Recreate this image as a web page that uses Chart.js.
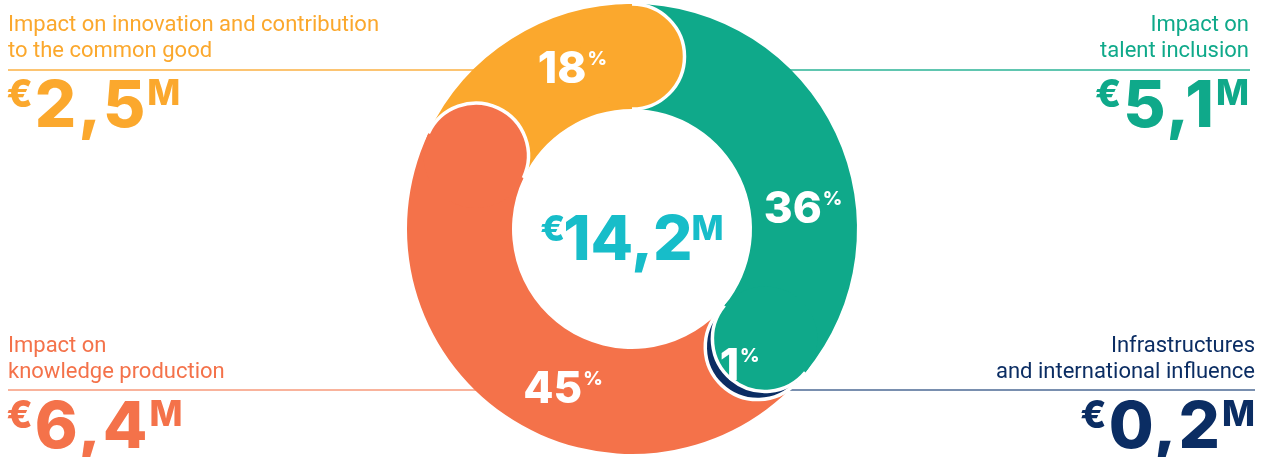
<!DOCTYPE html>
<html>
<head>
<meta charset="utf-8">
<script src="https://cdn.jsdelivr.net/npm/chart.js@4.4.1/dist/chart.umd.min.js"></script>
<style>
  html, body { margin: 0; padding: 0; background: #fff; }
  #wrap { width: 1273px; height: 457px; }
</style>
</head>
<body>
<div id="wrap"><canvas id="donut" width="1273" height="457"></canvas></div>
<script>
// clockwise from 12 o'clock
const categories = [
  "Impact on talent inclusion",
  "Infrastructures and international influence",
  "Impact on knowledge production",
  "Impact on innovation and contribution to the common good"
];
const labelLines = [
  ["Impact on", "talent inclusion"],
  ["Infrastructures", "and international influence"],
  ["Impact on", "knowledge production"],
  ["Impact on innovation and contribution", "to the common good"]
];
const amounts = ["5,1", "0,2", "6,4", "2,5"];   // € millions
const shares = [36, 1, 45, 18];                 // %
const total = "14,2";

const colors = ["#0fa98a", "#0b2d63", "#f4724a", "#fba82d"];
const ruleColors = ["#2bb396", "#4d6a94", "#f79a7b", "#fbb043"];
const totalColor = "#17bdc9";

// corner for each category's text block
const corners = [
  { right: true, bottom: false },
  { right: true, bottom: true },
  { right: false, bottom: true },
  { right: false, bottom: false }
];
// nudge of the % labels along the ring, degrees
const labelShift = [18, 10, -10.6, 12.2];

const FONT = "Inter, 'DejaVu Sans', sans-serif";
const TEXT_FONT = "Roboto, 'DejaVu Sans', sans-serif";

function drawAmount(ctx, value, x, baseline, right, color, big, small, euroSize, g1, g2, spacing) {
  const cap = 0.727;
  ctx.fillStyle = color;
  ctx.textBaseline = "alphabetic";
  ctx.textAlign = "left";
  ctx.font = `800 ${euroSize}px ${FONT}`;
  const wE = ctx.measureText("€").width;
  ctx.font = `800 ${big}px ${FONT}`;
  ctx.letterSpacing = spacing + "px";
  const wD = ctx.measureText(value).width;
  ctx.letterSpacing = "0px";
  ctx.font = `800 ${small}px ${FONT}`;
  const wM = ctx.measureText("M").width;
  const w = wE + g1 + wD + g2 + wM;
  let x0 = right === "center" ? x - w / 2 : right ? x - w : x - euroSize * 0.04;
  const top = baseline - big * cap;
  ctx.font = `800 ${euroSize}px ${FONT}`;
  ctx.fillText("€", x0, top + euroSize * cap);
  ctx.font = `800 ${big}px ${FONT}`;
  ctx.letterSpacing = spacing + "px";
  ctx.fillText(value, x0 + wE + g1, baseline);
  ctx.letterSpacing = "0px";
  ctx.font = `800 ${small}px ${FONT}`;
  ctx.fillText("M", x0 + wE + g1 + wD + g2, top + small * cap);
}

const ringPlugin = {
  id: "ring",
  beforeDatasetsDraw(chart) {
    const ctx = chart.ctx;
    const arc = chart.getDatasetMeta(0).data[0];
    const cx = arc.x;
    ctx.save();
    ctx.lineWidth = 1.5;
    corners.forEach((c, i) => {
      const y = c.bottom ? 390 : 70;
      ctx.strokeStyle = ruleColors[i];
      ctx.beginPath();
      if (c.right) { ctx.moveTo(cx, y); ctx.lineTo(c.bottom ? 1255 : 1250, y); }
      else { ctx.moveTo(8, y); ctx.lineTo(cx, y); }
      ctx.stroke();
    });
    ctx.restore();
  },
  afterDatasetsDraw(chart) {
    const ctx = chart.ctx;
    const arcs = chart.getDatasetMeta(0).data;
    ctx.save();
    // rounded ends, each one lying over the start of the next segment
    for (let i = arcs.length - 1; i >= 0; i--) {
      const { x, y, endAngle, innerRadius, outerRadius } =
        arcs[i].getProps(["x", "y", "endAngle", "innerRadius", "outerRadius"], true);
      const rm = (innerRadius + outerRadius) / 2;
      const rc = (outerRadius - innerRadius) / 2;
      const px = x + rm * Math.cos(endAngle);
      const py = y + rm * Math.sin(endAngle);
      ctx.fillStyle = colors[i];
      ctx.beginPath();
      ctx.arc(px, py, rc, 0, Math.PI * 2);
      ctx.fill();
      ctx.strokeStyle = "#fff";
      ctx.lineWidth = 3.5;
      ctx.beginPath();
      ctx.arc(px, py, rc, endAngle, endAngle + Math.PI);
      ctx.stroke();
    }
    // percentage labels
    arcs.forEach((a, i) => {
      const { x, y, startAngle, endAngle, innerRadius, outerRadius } =
        a.getProps(["x", "y", "startAngle", "endAngle", "innerRadius", "outerRadius"], true);
      const ang = (startAngle + endAngle) / 2 + labelShift[i] * Math.PI / 180;
      const r = (innerRadius + outerRadius) / 2;
      const lx = x + r * Math.cos(ang);
      const ly = y + r * Math.sin(ang);
      const num = String(shares[i]);
      ctx.font = `800 44px ${FONT}`;
      const wn = ctx.measureText(num).width;
      ctx.font = `800 19px ${FONT}`;
      const wp = ctx.measureText("%").width;
      const x0 = lx - (wn + 1 + wp) / 2;
      const base = ly + 16;
      ctx.fillStyle = "#fff";
      ctx.textAlign = "left";
      ctx.textBaseline = "alphabetic";
      ctx.font = `800 44px ${FONT}`;
      ctx.fillText(num, x0, base);
      ctx.font = `800 19px ${FONT}`;
      ctx.fillText("%", x0 + wn + 1, base - 32 + 14);
    });
    ctx.restore();
  },
  afterDraw(chart) {
    const ctx = chart.ctx;
    const arc = chart.getDatasetMeta(0).data[0];
    ctx.save();
    // total in the hole
    drawAmount(ctx, total, arc.x, 260, "center", totalColor, 62, 34, 36, -2, -1, 0);
    // corner blocks
    corners.forEach((c, i) => {
      const color = colors[i];
      const lines = labelLines[i];
      const x = c.right ? (c.bottom ? 1255 : 1249) : 8;
      const base1 = c.bottom ? 352 : 31;
      ctx.fillStyle = color;
      ctx.font = `400 22px ${TEXT_FONT}`;
      ctx.textAlign = c.right ? "right" : "left";
      ctx.textBaseline = "alphabetic";
      lines.forEach((t, k) => ctx.fillText(t, x, base1 + k * 26));
      drawAmount(ctx, amounts[i], x, c.bottom ? 448 : 127, c.right, color, 65, 35, 38, 2, 0, 2);
    });
    ctx.restore();
  }
};

new Chart(document.getElementById("donut"), {
  type: "doughnut",
  data: {
    labels: categories,
    datasets: [{
      data: shares,
      backgroundColor: colors,
      borderWidth: 0
    }]
  },
  options: {
    responsive: false,
    devicePixelRatio: 1,
    animation: false,
    cutout: 120,
    layout: { padding: { left: 407, right: 416, top: 4, bottom: 3 } },
    plugins: { legend: { display: false }, tooltip: { enabled: false } }
  },
  plugins: [ringPlugin]
});
</script>
</body>
</html>
